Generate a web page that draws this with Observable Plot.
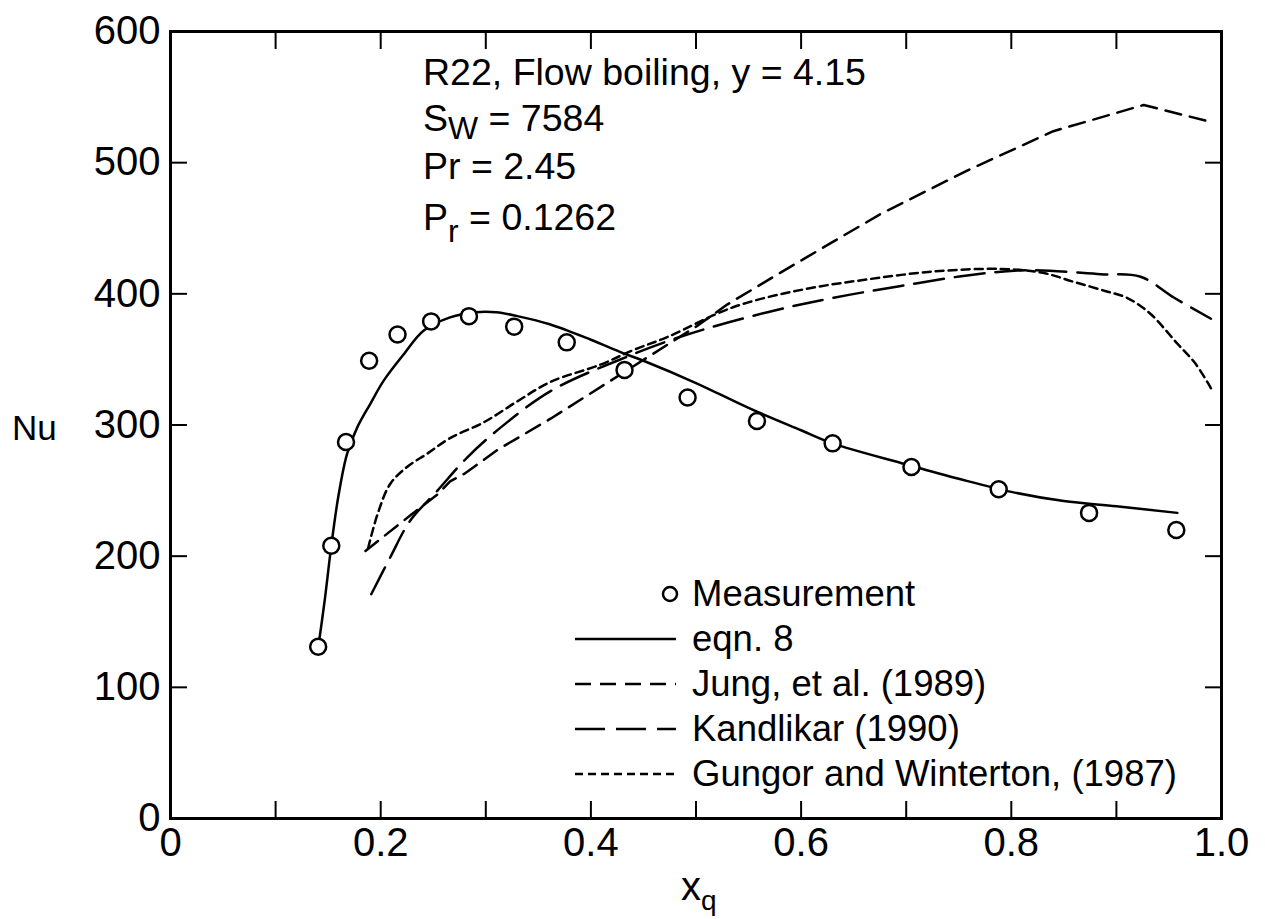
<!DOCTYPE html>
<html><head><meta charset="utf-8">
<script src="https://cdn.jsdelivr.net/npm/d3@7"></script>
<script src="https://cdn.jsdelivr.net/npm/@observablehq/plot@0.6"></script>
<style>
body{margin:0;background:#fff;font-family:"Liberation Sans",Arial,Helvetica,sans-serif;}
#wrap{position:relative;width:1265px;height:919px;overflow:hidden;}
.abs{position:absolute;white-space:nowrap;color:#000;}
.ann{font-size:37.5px;line-height:38px;}
.leg{display:flex;align-items:center;height:45px;font-size:36.5px;}
.leg svg{margin-right:7px;}
</style></head><body><div id="wrap"></div>
<script>
// ---- data ----
const measX  = [0.1405,0.153,0.167,0.189,0.216,0.248,0.284,0.327,0.377,0.432,0.492,0.558,0.630,0.705,0.788,0.874,0.957];
const measNu = [131,208,287,349,369,379,383,375,363,342,321,303,286,268,251,233,220];

const eqn8X  = [0.1405,0.147,0.153,0.16,0.168,0.1776,0.19,0.203,0.222,0.241,0.266,0.29,0.31,0.33,0.36,0.4,0.43,0.45,0.5,0.55,0.6,0.63,0.7,0.75,0.8,0.85,0.9,0.958];
const eqn8Nu = [130,168,208,247,278,298,316,334,354,372,382,386,386,383,377,365,355,349,332,313,296,286,270,259,249,242,238,233];

const jungX  = [0.1855,0.228,0.254,0.266,0.28,0.311,0.362,0.431,0.5,0.53,0.58,0.631,0.676,0.758,0.84,0.926,0.99];
const jungNu = [204,231,247,257,263,281,305,340,375,392,416,440,461,494,524,544,531];

const kandX  = [0.191,0.209,0.228,0.254,0.282,0.314,0.362,0.425,0.488,0.568,0.631,0.695,0.758,0.815,0.885,0.923,0.955,0.99];
const kandNu = [171,199,227,250,275,298,326,349,368,386,397,406,414,418,415,413,397,381];

const gungX  = [0.188,0.197,0.209,0.225,0.244,0.266,0.298,0.33,0.362,0.409,0.44,0.4726,0.536,0.6,0.663,0.726,0.79,0.83,0.86,0.89,0.91,0.932,0.958,0.975,0.99];
const gungNu = [206,232,255,268,278,290,302,318,333,346,357,367,390,403,411,417,419,416,409,402,397,385,362,347,328];

const xTicks = [0,0.1,0.2,0.3,0.4,0.5,0.6,0.7,0.8,0.9,1.0];
const xLabelTicks = [0,0.2,0.4,0.6,0.8,1.0];
const xTickLabels = ["0","0.2","0.4","0.6","0.8","1.0"];
const yTicks = [0,100,200,300,400,500,600];

const seriesNames = ["Measurement","eqn. 8","Jung, et al. (1989)","Kandlikar (1990)","Gungor and Winterton, (1987)"];
const seriesDash  = [null, null, "16,9", "30,11", "8,5"];

// ---- build ----
const rows = (xs, ys) => xs.map((x, i) => ({x, y: ys[i]}));
const font = '"Liberation Sans",Arial,Helvetica,sans-serif';
const tickOpts = {tickSize: -17, tickFormat: () => "", strokeWidth: 2, label: null};

const chart = Plot.plot({
  width: 1265, height: 919,
  marginLeft: 170, marginRight: 44, marginTop: 31, marginBottom: 101,
  x: {domain: [0, 1]},
  y: {domain: [0, 600]},
  style: {fontFamily: font, background: "white", color: "black"},
  marks: [
    Plot.axisX(xTicks, {anchor: "bottom", ...tickOpts}),
    Plot.axisX(xTicks, {anchor: "top", ...tickOpts}),
    Plot.axisY(yTicks, {anchor: "left", ...tickOpts}),
    Plot.axisY(yTicks, {anchor: "right", ...tickOpts}),
    Plot.axisX(xLabelTicks, {anchor: "bottom", tickSize: 0, tickPadding: 9, fontSize: 40, label: null,
      tickFormat: d => xTickLabels[xLabelTicks.indexOf(d)]}),
    Plot.axisY(yTicks, {anchor: "left", tickSize: 0, tickPadding: 10, fontSize: 40, label: null, tickFormat: d => String(d)}),
    Plot.line(rows(jungX, jungNu), {x: "x", y: "y", stroke: "black", strokeWidth: 2.5, strokeDasharray: seriesDash[2], curve: "linear"}),
    Plot.line(rows(kandX, kandNu), {x: "x", y: "y", stroke: "black", strokeWidth: 2.5, strokeDasharray: seriesDash[3], curve: "catmull-rom"}),
    Plot.line(rows(gungX, gungNu), {x: "x", y: "y", stroke: "black", strokeWidth: 2.5, strokeDasharray: seriesDash[4], curve: "catmull-rom"}),
    Plot.line(rows(eqn8X, eqn8Nu), {x: "x", y: "y", stroke: "black", strokeWidth: 2.5, curve: "catmull-rom"}),
    Plot.dot(rows(measX, measNu), {x: "x", y: "y", r: 8, stroke: "black", strokeWidth: 2.5, fill: "white"}),
    Plot.frame({stroke: "black", strokeWidth: 3})
  ]
});
const wrap = document.getElementById("wrap");
wrap.appendChild(chart);

// annotation
const ann = [
  {top: 53, html: "R22, Flow boiling, y = 4.15"},
  {top: 99, html: "S<span style='font-size:0.85em;position:relative;top:8px'>W</span> = 7584"},
  {top: 147, html: "Pr = 2.45"},
  {top: 198, html: "P<span style='font-size:0.85em;position:relative;top:12px'>r</span> = 0.1262"}
];
for (const a of ann) {
  const d = document.createElement("div");
  d.className = "abs ann"; d.style.left = "423px"; d.style.top = a.top + "px";
  d.innerHTML = a.html; wrap.appendChild(d);
}

// axis titles
const nu = document.createElement("div");
nu.className = "abs"; nu.style.cssText += "left:12px;top:410px;font-size:35px;line-height:35px;";
nu.textContent = "Nu"; wrap.appendChild(nu);
const xq = document.createElement("div");
xq.className = "abs"; xq.style.cssText += "left:681px;top:866px;font-size:40px;line-height:40px;";
xq.innerHTML = "x<span style='font-size:28px;position:relative;top:10px'>q</span>"; wrap.appendChild(xq);

// legend
const leg = document.createElement("div");
leg.className = "abs"; leg.style.left = "570px"; leg.style.top = "571px";
seriesNames.forEach((name, i) => {
  const r = document.createElement("div"); r.className = "leg";
  let sw;
  if (i === 0) {
    sw = `<svg width="115" height="45"><circle cx="100" cy="23" r="7" fill="white" stroke="black" stroke-width="2.5"/></svg>`;
  } else {
    sw = `<svg width="115" height="45"><line x1="5" x2="106" y1="23" y2="23" stroke="black" stroke-width="2.5" ${seriesDash[i] ? `stroke-dasharray="${seriesDash[i]}"` : ""}/></svg>`;
  }
  r.innerHTML = sw + `<span>${name}</span>`;
  leg.appendChild(r);
});
wrap.appendChild(leg);
</script>
</body></html>
